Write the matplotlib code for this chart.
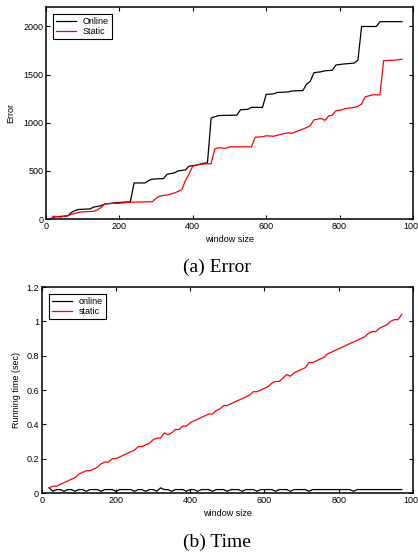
import matplotlib
matplotlib.use("Agg")
from matplotlib import pyplot as plt

plt.rcParams['font.family'] = ['Liberation Sans', 'DejaVu Sans']
plt.rcParams['font.size'] = 6.5

# (a) Error vs window size
err_online_x = [15, 20, 30, 50, 60, 70, 80, 90, 120, 130, 140, 150, 160, 190, 230,
                240, 270, 280, 290, 320, 330, 350, 360, 380, 390, 410, 430, 440,
                450, 470, 520, 530, 550, 560, 590, 600, 620, 630, 660, 670, 700,
                710, 720, 730, 750, 760, 780, 790, 810, 840, 850, 860, 900, 910, 970]
err_online_y = [5, 20, 25, 30, 35, 70, 90, 100, 105, 125, 130, 140, 155, 170, 180,
                375, 375, 400, 415, 420, 465, 480, 500, 510, 550, 560, 580, 585,
                1050, 1075, 1080, 1135, 1140, 1160, 1160, 1295, 1300, 1315, 1320, 1330, 1335,
                1400, 1430, 1520, 1530, 1540, 1545, 1600, 1610, 1620, 1650, 2000, 2000, 2050, 2050]

err_static_x = [15, 20, 30, 40, 50, 60, 70, 80, 90, 100, 130, 140, 150, 160, 170,
                200, 230, 290, 300, 310, 330, 350, 370, 380, 390, 400, 420, 450,
                460, 470, 490, 500, 560, 570, 590, 600, 620, 640, 660, 670, 690,
                710, 720, 730, 750, 760, 770, 780, 790, 800, 820, 840, 850, 860,
                870, 890, 910, 920, 950, 970]
err_static_y = [0, 30, 25, 20, 30, 35, 50, 60, 70, 75, 80, 95, 120, 155, 160,
                165, 175, 180, 215, 240, 250, 270, 305, 400, 470, 550, 570, 575,
                730, 740, 735, 750, 750, 850, 855, 865, 860, 880, 895, 890, 920,
                950, 970, 1030, 1045, 1025, 1070, 1080, 1125, 1130, 1150, 1160, 1170, 1195,
                1270, 1290, 1290, 1645, 1650, 1660]

# (b) Running time vs window size
time_x = list(range(20, 980, 10))
time_static = [0.03, 0.04, 0.04, 0.05, 0.06, 0.07, 0.08, 0.09, 0.11, 0.12,
               0.13, 0.13, 0.14, 0.15, 0.17, 0.18, 0.18, 0.20, 0.20, 0.21,
               0.22, 0.23, 0.24, 0.25, 0.27, 0.27, 0.28, 0.29, 0.31, 0.32,
               0.32, 0.35, 0.34, 0.35, 0.37, 0.37, 0.39, 0.39, 0.41, 0.42,
               0.43, 0.44, 0.45, 0.46, 0.46, 0.48, 0.49, 0.51, 0.51, 0.52,
               0.53, 0.54, 0.55, 0.56, 0.57, 0.59, 0.59, 0.60, 0.61, 0.62,
               0.64, 0.65, 0.65, 0.67, 0.69, 0.68, 0.70, 0.71, 0.72, 0.73,
               0.76, 0.76, 0.77, 0.78, 0.79, 0.81, 0.82, 0.83, 0.84, 0.85,
               0.86, 0.87, 0.88, 0.89, 0.90, 0.91, 0.93, 0.94, 0.94, 0.96,
               0.97, 0.98, 1.00, 1.01, 1.01, 1.04]
time_online = [0.03, 0.01, 0.02, 0.02, 0.01, 0.02, 0.02, 0.01, 0.02, 0.02,
               0.01, 0.02, 0.02, 0.02, 0.01, 0.02, 0.02, 0.02, 0.01, 0.02,
               0.02, 0.02, 0.02, 0.01, 0.02, 0.02, 0.01, 0.02, 0.02, 0.01,
               0.03, 0.02, 0.02, 0.01, 0.02, 0.02, 0.02, 0.01, 0.02, 0.02,
               0.01, 0.02, 0.02, 0.02, 0.01, 0.02, 0.02, 0.02, 0.01, 0.02,
               0.02, 0.02, 0.01, 0.02, 0.02, 0.02, 0.01, 0.02, 0.02, 0.02,
               0.02, 0.01, 0.02, 0.02, 0.02, 0.01, 0.02, 0.02, 0.02, 0.02,
               0.01, 0.02, 0.02, 0.02, 0.02, 0.02, 0.02, 0.02, 0.02, 0.02,
               0.02, 0.02, 0.01, 0.02, 0.02, 0.02, 0.02, 0.02, 0.02, 0.02,
               0.02, 0.02, 0.02, 0.02, 0.02, 0.02]


def style_axes(ax):
    ax.tick_params(direction='in', top=True, right=True, length=3, width=0.8,
                   labelsize=6.5, pad=2)
    for s in ax.spines.values():
        s.set_linewidth(1.1)
    ax.set_xlim(0, 1000)
    ax.set_xticks([0, 200, 400, 600, 800, 1000])
    ax.set_xlabel('window size', fontsize=6.5, labelpad=3)


fig = plt.figure(figsize=(4.18, 5.56), dpi=100)

ax1 = fig.add_axes([0.110, 0.606, 0.878, 0.381])
ax1.plot(err_online_x, err_online_y, color='black', lw=0.9, label='Online')
ax1.plot(err_static_x, err_static_y, color='red', lw=0.9, label='Static')
style_axes(ax1)
ax1.set_ylim(0, 2200)
ax1.set_yticks([0, 500, 1000, 1500, 2000])
ax1.set_ylabel('Error', fontsize=6.5, labelpad=6)
leg = ax1.legend(loc='upper left', fontsize=6.5, fancybox=False, framealpha=1,
                 edgecolor='black', handlelength=2.2, borderpad=0.3,
                 labelspacing=0.1, borderaxespad=0.8)
leg.get_frame().set_linewidth(0.8)

ax2 = fig.add_axes([0.0998, 0.1133, 0.888, 0.3705])
ax2.plot(time_x, time_online, color='black', lw=0.9, label='online')
ax2.plot(time_x, time_static, color='red', lw=0.9, label='static')
style_axes(ax2)
ax2.set_ylim(0, 1.2)
ax2.set_yticks([0, 0.2, 0.4, 0.6, 0.8, 1.0, 1.2])
ax2.set_yticklabels(['0', '0.2', '0.4', '0.6', '0.8', '1', '1.2'])
ax2.set_ylabel('Running time (sec)', fontsize=6.5, labelpad=4)
leg = ax2.legend(loc='upper left', fontsize=6.5, fancybox=False, framealpha=1,
                 edgecolor='black', handlelength=2.2, borderpad=0.3,
                 labelspacing=0.1, borderaxespad=0.8)
leg.get_frame().set_linewidth(0.8)

fig.text(0.52, 1 - 267 / 556, '(a) Error', ha='center', va='center',
         fontsize=14, family=['Liberation Serif', 'DejaVu Serif'])
fig.text(0.52, 1 - 542 / 556, '(b) Time', ha='center', va='center',
         fontsize=14, family=['Liberation Serif', 'DejaVu Serif'])

fig.savefig('out.png', dpi=100)
